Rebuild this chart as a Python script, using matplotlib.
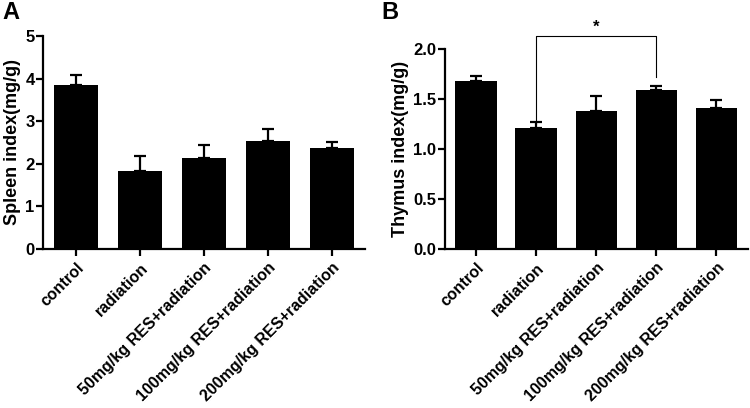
import numpy as np
import matplotlib
matplotlib.use("Agg")
import matplotlib.pyplot as plt

plt.rcParams["font.family"] = ["Liberation Sans", "DejaVu Sans"]
plt.rcParams["font.weight"] = "bold"

GROUPS = ["control", "radiation", "50mg/kg RES+radiation",
          "100mg/kg RES+radiation", "200mg/kg RES+radiation"]
SPLEEN_MEAN = [3.84, 1.84, 2.14, 2.53, 2.38]
SPLEEN_ERR = [0.25, 0.34, 0.31, 0.29, 0.14]
THYMUS_MEAN = [1.68, 1.21, 1.38, 1.59, 1.41]
THYMUS_ERR = [0.05, 0.06, 0.15, 0.04, 0.08]
SIG_PAIR = (1, 3)
SIG_LABEL = "*"


def style_axes(ax):
    for side in ("top", "right"):
        ax.spines[side].set_visible(False)
    for side in ("left", "bottom"):
        ax.spines[side].set_linewidth(1.6)
    ax.tick_params(width=1.6, length=5)
    ax.tick_params(axis="y", labelsize=12, pad=1)
    ax.tick_params(axis="x", labelsize=11.5, pad=3)
    ax.set_xlim(-0.52, 4.52)


def draw_panel(ax, means, errs, ylabel, ylim, yticks, fmt):
    x = np.arange(len(GROUPS))
    ax.bar(x, means, width=0.69, color="black")
    ax.errorbar(x, means, yerr=[np.zeros(len(errs)), errs], fmt="none",
                ecolor="black", elinewidth=1.6, capsize=4, capthick=1.6)
    style_axes(ax)
    ax.set_ylim(*ylim)
    ax.set_yticks(yticks)
    ax.set_yticklabels([fmt.format(v) for v in yticks], fontweight="bold")
    ax.set_xticks(x)
    ax.set_xticklabels(GROUPS, rotation=45, ha="right", rotation_mode="anchor",
                       fontweight="bold")
    ax.set_ylabel(ylabel, fontsize=13, fontweight="bold", labelpad=3)


fig = plt.figure(figsize=(7.5, 4.08), dpi=100)
ax1 = fig.add_axes([0.0573, 0.3897, 0.4297, 0.5221])
ax2 = fig.add_axes([0.593, 0.3897, 0.404, 0.4893])

draw_panel(ax1, SPLEEN_MEAN, SPLEEN_ERR, "Spleen index(mg/g)", (0, 5),
           [0, 1, 2, 3, 4, 5], "{:g}")
draw_panel(ax2, THYMUS_MEAN, THYMUS_ERR, "Thymus index(mg/g)", (0, 2.0),
           [0.0, 0.5, 1.0, 1.5, 2.0], "{:.1f}")

# significance bracket
i, j = SIG_PAIR
top = 2.13
ax2.plot([i, i, j, j], [1.25, top, top, 1.72], color="black", lw=0.8,
         clip_on=False)
ax2.text((i + j) / 2, top + 0.02, SIG_LABEL, ha="center", va="bottom",
         fontsize=12, fontweight="bold", clip_on=False)

fig.text(0.003, 0.998, "A", fontsize=17, fontweight="bold", va="top")
fig.text(0.508, 0.998, "B", fontsize=17, fontweight="bold", va="top")

plt.savefig("out.png", dpi=100)
